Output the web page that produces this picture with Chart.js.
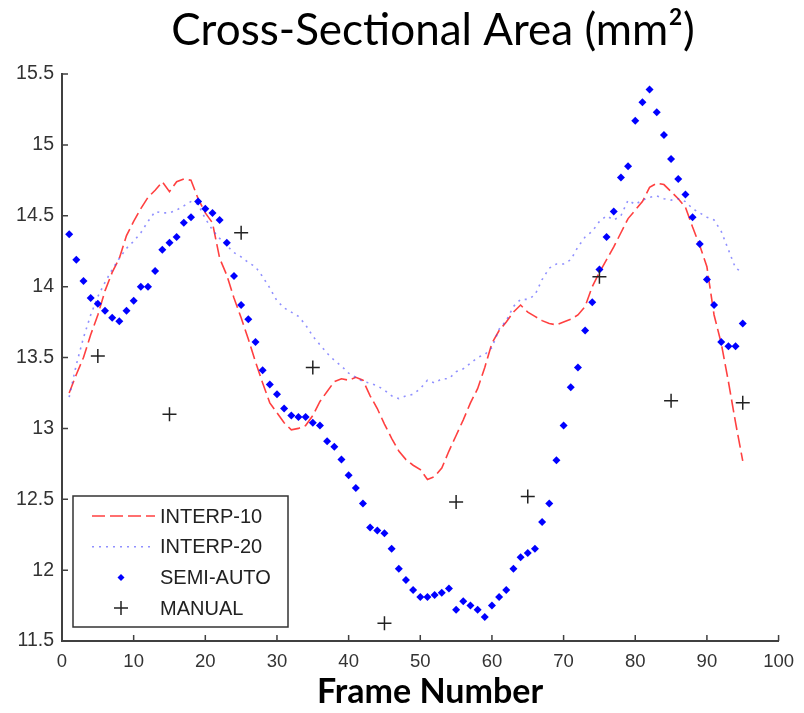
<!DOCTYPE html>
<html>
<head>
<meta charset="utf-8">
<script src="https://cdn.jsdelivr.net/npm/chart.js@4.4.0/dist/chart.umd.min.js"></script>
<style>
  html, body { margin: 0; padding: 0; background: #fff; }
  #wrap { width: 804px; height: 713px; }
</style>
</head>
<body>
<div id="wrap"><canvas id="chart"></canvas></div>
<script>
// Data
const FRAMES = [1,2,3,4,5,6,7,8,9,10,11,12,13,14,15,16,17,18,19,20,
  21,22,23,24,25,26,27,28,29,30,31,32,33,34,35,36,37,38,39,40,
  41,42,43,44,45,46,47,48,49,50,51,52,53,54,55,56,57,58,59,60,
  61,62,63,64,65,66,67,68,69,70,71,72,73,74,75,76,77,78,79,80,
  81,82,83,84,85,86,87,88,89,90,91,92,93,94,95];

const INTERP_10 = [13.25,13.38,13.50,13.66,13.80,13.97,14.10,14.20,14.36,14.46,
  14.55,14.63,14.68,14.74,14.67,14.74,14.76,14.75,14.62,14.52,
  14.45,14.20,14.08,13.92,13.78,13.63,13.47,13.32,13.18,13.11,
  13.04,12.99,13.00,13.02,13.09,13.19,13.26,13.33,13.35,13.34,
  13.36,13.34,13.23,13.14,13.03,12.93,12.84,12.78,12.74,12.71,
  12.64,12.66,12.72,12.84,12.95,13.06,13.18,13.28,13.43,13.60,
  13.69,13.75,13.82,13.87,13.82,13.79,13.76,13.74,13.73,13.75,
  13.77,13.80,13.86,14.00,14.10,14.19,14.28,14.38,14.48,14.54,
  14.60,14.70,14.73,14.72,14.67,14.62,14.56,14.42,14.29,14.14,
  13.80,13.60,13.33,13.04,12.77];

const INTERP_20 = [13.22,13.45,13.64,13.80,13.93,14.03,14.12,14.20,14.27,14.32,
  14.38,14.46,14.53,14.52,14.52,14.54,14.57,14.60,14.58,14.48,
  14.40,14.34,14.29,14.24,14.21,14.17,14.14,14.07,13.99,13.90,
  13.85,13.82,13.79,13.73,13.65,13.59,13.53,13.48,13.44,13.39,
  13.36,13.33,13.32,13.30,13.27,13.23,13.21,13.23,13.24,13.28,
  13.34,13.32,13.35,13.35,13.40,13.42,13.46,13.50,13.52,13.57,
  13.70,13.76,13.86,13.91,13.91,13.94,14.05,14.13,14.16,14.16,
  14.19,14.28,14.35,14.39,14.46,14.50,14.47,14.50,14.61,14.58,
  14.61,14.63,14.64,14.62,14.61,14.62,14.60,14.55,14.52,14.49,
  14.47,14.39,14.26,14.13,14.10];

const SEMI_AUTO = [14.37,14.19,14.04,13.92,13.88,13.83,13.78,13.755,13.83,13.90,
  14.00,14.00,14.11,14.26,14.31,14.35,14.45,14.49,14.60,14.55,
  14.52,14.47,14.31,14.075,13.87,13.77,13.61,13.41,13.31,13.24,
  13.14,13.09,13.08,13.08,13.04,13.02,12.91,12.87,12.78,12.67,
  12.58,12.47,12.30,12.28,12.26,12.15,12.01,11.93,11.86,11.81,
  11.81,11.825,11.84,11.87,11.72,11.78,11.75,11.72,11.67,11.75,
  11.81,11.86,12.01,12.09,12.12,12.15,12.34,12.47,12.775,13.02,
  13.29,13.43,13.69,13.89,14.12,14.35,14.53,14.77,14.85,15.17,
  15.30,15.39,15.23,15.07,14.90,14.76,14.65,14.49,14.30,14.05,
  13.87,13.61,13.58,13.58,13.74];

const MANUAL_FRAMES = [5,15,25,35,45,55,65,75,85,95];
const MANUAL = [13.51,13.10,14.38,13.43,11.625,12.48,12.52,14.07,13.195,13.18];

const X_TICKS = [0,10,20,30,40,50,60,70,80,90,100];
const Y_TICKS = [11.5,12,12.5,13,13.5,14,14.5,15,15.5];

const TITLE = 'Cross-Sectional Area (mm²)';
const X_TITLE = 'Frame Number';

const pts = (xs, ys) => xs.map((x, i) => ({ x, y: ys[i] }));

// title, axis title, inward ticks and the boxed legend
const decorations = {
  id: 'decorations',
  afterDraw(chart) {
    const { ctx, chartArea: a, scales } = chart;
    ctx.save();
    ctx.strokeStyle = '#404040';
    ctx.lineWidth = 1.5;
    ctx.beginPath();
    X_TICKS.forEach(v => {
      const px = scales.x.getPixelForValue(v);
      ctx.moveTo(px, a.bottom);
      ctx.lineTo(px, a.bottom - 6);
    });
    Y_TICKS.forEach(v => {
      const py = scales.y.getPixelForValue(v);
      ctx.moveTo(a.left, py);
      ctx.lineTo(a.left + 6, py);
    });
    ctx.stroke();

    ctx.fillStyle = '#000';
    ctx.textAlign = 'center';
    ctx.textBaseline = 'middle';
    ctx.font = '44px Lato, "Open Sans", sans-serif';
    ctx.fillText(TITLE, 433, 31);
    ctx.font = 'bold 34px Lato, "Open Sans", sans-serif';
    ctx.fillText(X_TITLE, 430, 692);

    // legend
    const x0 = a.left + 11, y0 = a.bottom - 145, w = 215, h = 131;
    ctx.fillStyle = '#fff';
    ctx.fillRect(x0, y0, w, h);
    ctx.strokeStyle = '#333';
    ctx.lineWidth = 1.5;
    ctx.strokeRect(x0, y0, w, h);
    ctx.font = '20px "Liberation Sans", Arial, sans-serif';
    ctx.textAlign = 'left';
    chart.data.datasets.forEach((ds, i) => {
      const y = y0 + 20 + i * 30.7;
      if (ds.showLine) {
        ctx.save();
        ctx.strokeStyle = ds.borderColor;
        ctx.lineWidth = ds.borderWidth;
        ctx.setLineDash(ds.borderDash || []);
        ctx.beginPath();
        ctx.moveTo(x0 + 19, y);
        ctx.lineTo(x0 + 82, y);
        ctx.stroke();
        ctx.restore();
      } else {
        ctx.save();
        ctx.fillStyle = ds.pointBackgroundColor;
        ctx.strokeStyle = ds.pointBorderColor;
        ctx.lineWidth = ds.pointBorderWidth;
        Chart.helpers.drawPoint(ctx, {
          pointStyle: ds.pointStyle,
          radius: ds.legendRadius,
          rotation: 0,
          borderWidth: ds.pointBorderWidth
        }, x0 + 48, y);
        ctx.restore();
      }
      ctx.fillStyle = '#222';
      ctx.fillText(ds.label, x0 + 87, y + 1);
    });
    ctx.restore();
  }
};

new Chart(document.getElementById('chart'), {
  type: 'scatter',
  data: {
    datasets: [
      {
        label: 'INTERP-10',
        data: pts(FRAMES, INTERP_10),
        showLine: true,
        borderColor: 'rgba(255,30,30,0.85)',
        borderWidth: 1.6,
        borderDash: [13, 5],
        pointRadius: 0,
        order: 4
      },
      {
        label: 'INTERP-20',
        data: pts(FRAMES, INTERP_20),
        showLine: true,
        borderColor: 'rgba(70,70,255,0.6)',
        borderWidth: 1.6,
        borderDash: [2, 5],
        pointRadius: 0,
        order: 3
      },
      {
        label: 'SEMI-AUTO',
        data: pts(FRAMES, SEMI_AUTO),
        showLine: false,
        pointStyle: 'rectRot',
        pointRadius: 4,
        legendRadius: 3.5,
        pointBackgroundColor: '#0000ff',
        pointBorderColor: '#0000ff',
        pointBorderWidth: 0,
        order: 2
      },
      {
        label: 'MANUAL',
        data: pts(MANUAL_FRAMES, MANUAL),
        showLine: false,
        pointStyle: 'cross',
        pointRadius: 7,
        legendRadius: 7,
        pointBackgroundColor: '#222',
        pointBorderColor: '#222',
        pointBorderWidth: 1.5,
        order: 1
      }
    ]
  },
  options: {
    responsive: true,
    maintainAspectRatio: false,
    animation: false,
    layout: { padding: { top: 74, right: 22, left: 0, bottom: 0 } },
    plugins: {
      legend: { display: false },
      title: { display: false },
      tooltip: { enabled: false }
    },
    scales: {
      x: {
        type: 'linear',
        min: 0, max: 100,
        afterFit: s => { s.height = 72; },
        grid: { display: false, drawTicks: false },
        border: { display: true, color: '#404040', width: 2 },
        ticks: {
          stepSize: 10,
          padding: 10,
          color: '#333',
          font: { family: '"Liberation Sans", Arial, sans-serif', size: 18.5 },
          callback: v => String(v)
        }
      },
      y: {
        min: 11.5, max: 15.5,
        afterFit: s => { s.width = 62; },
        grid: { display: false, drawTicks: false },
        border: { display: true, color: '#404040', width: 2 },
        ticks: {
          stepSize: 0.5,
          padding: 8,
          color: '#333',
          font: { family: '"Liberation Sans", Arial, sans-serif', size: 19.5 },
          callback: v => String(v)
        }
      }
    }
  },
  plugins: [decorations]
});
</script>
</body>
</html>
